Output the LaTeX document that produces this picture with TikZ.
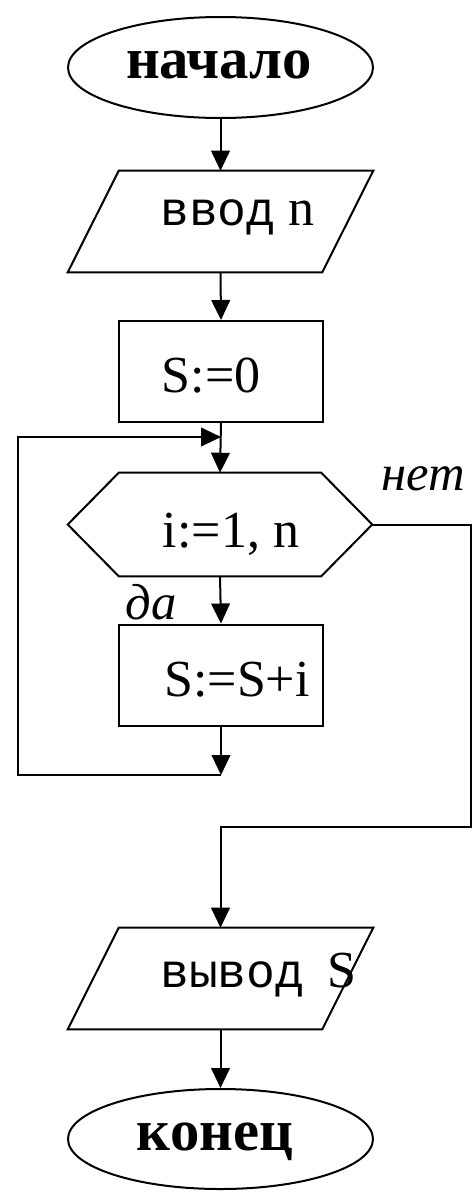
\documentclass[tikz,border=0pt]{standalone}
\usepackage{fontspec}
\setmainfont{Liberation Serif}
\newfontfamily\codefont{Liberation Mono}
\usetikzlibrary{shapes.geometric,arrows.meta,calc}

\tikzset{
  line/.style={line width=1.5pt, line join=miter},
  arr/.style={line, -{Triangle[length=15pt,width=14pt]}},
  termbox/.style={ellipse, draw, line width=1.5pt, inner sep=0pt,
    minimum width=305*0.75pt, minimum height=101*0.75pt},
  procbox/.style={rectangle, draw, line width=1.5pt, inner sep=0pt,
    minimum width=204*0.75pt, minimum height=101*0.75pt},
  frame/.style={rectangle, draw=none, inner sep=0pt},
  bigbold/.style={font=\fontsize{44}{44}\selectfont\bfseries, anchor=base},
  plain/.style={font=\fontsize{39}{39}\selectfont, anchor=base},
  code/.style={font=\fontsize{36}{36}\selectfont\codefont, anchor=base west, inner sep=0pt},
  note/.style={font=\fontsize{38}{38}\selectfont\itshape, anchor=base},
}

\begin{document}
\begin{tikzpicture}[x=0.75pt, y=-0.75pt]
\useasboundingbox (0,0) rectangle (474,1192);

% terminals and process blocks
\node[termbox] (start) at (220.5,67.5) {};
\node[bigbold] (tstart) at (219,78) {начало};

\node[frame, minimum width=305*0.75pt, minimum height=101*0.75pt] (in) at (220.5,221.5) {};
\draw[line] ($(in.north west)+(51,0)$) -- (in.north east)
  -- ($(in.south east)-(51,0)$) -- (in.south west) -- cycle;
\node[code] (tin) at (160,225) {ввод{\fontsize{39}{39}\rmfamily\ n}};

\node[procbox] (s0) at (221,371.5) {};
\node[plain] (ts0) at (211,392) {S:=0};

\node[frame, minimum width=304*0.75pt, minimum height=103*0.75pt] (loop) at (220,524.5) {};
\draw[line] (loop.west) -- ($(loop.north west)+(51,0)$)
  -- ($(loop.north east)-(51,0)$) -- (loop.east)
  -- ($(loop.south east)-(51,0)$) -- ($(loop.south west)+(51,0)$) -- cycle;
\node[plain] (tloop) at (231,547) {i:=1, n};

\node[procbox] (body) at (221,675) {};
\node[plain] (tbody) at (237,696) {S:=S+i};

\node[frame, minimum width=305*0.75pt, minimum height=101*0.75pt] (out) at (220.5,978.5) {};
\draw[line] ($(out.north west)+(51,0)$) -- (out.north east)
  -- ($(out.south east)-(51,0)$) -- (out.south west) -- cycle;
\node[code] (tout) at (160,987) {вывод{\fontsize{39}{39}\rmfamily\hspace{0.45em}S}};

\node[termbox, minimum height=100*0.75pt] (end) at (220.5,1139) {};
\node[bigbold] (tend) at (215,1150) {конец};

% branch labels
\node[note] (yes) at (151,619) {да};
\node[note] (no) at (423,490) {нет};

% junction points
\coordinate (j0) at (221,437);
\coordinate (j1) at (221,775);
\coordinate (lft) at (18,775);
\coordinate (rgt) at (471,827);

% connectors
\draw[arr] (start.south) -- (in.north);
\draw[arr] (in.south) -- (s0.north);
\draw[arr] (s0.south) -- (loop.north);
\draw[arr] (loop.south) -- (body.north);
\draw[arr] (body.south) -- (j1);
\draw[arr] (j1) -- (lft) |- (j0);
\draw[arr] (loop.east) -| (rgt) -| (out.north);
\draw[arr] (out.south) -- (end.north);
\end{tikzpicture}
\end{document}
